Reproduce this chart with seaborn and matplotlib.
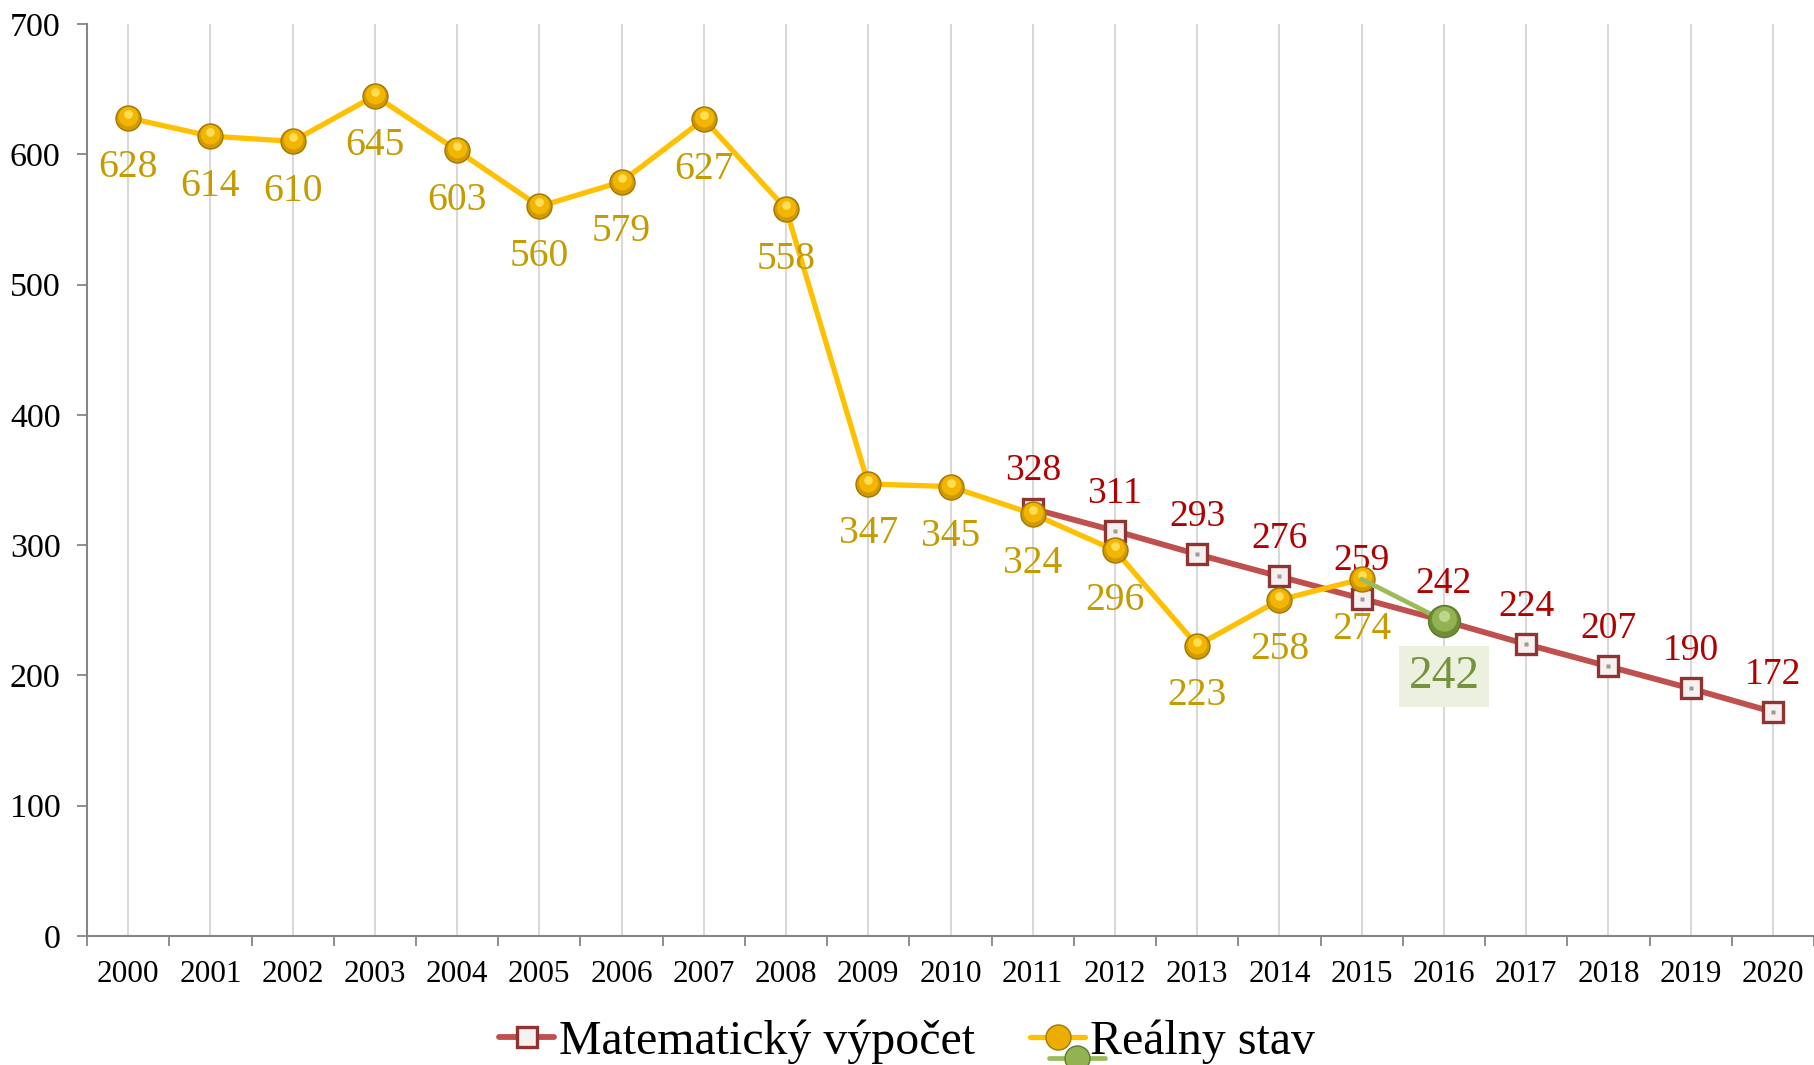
import pandas as pd
import seaborn as sns
import matplotlib.pyplot as plt
from matplotlib.lines import Line2D
from matplotlib.markers import MarkerStyle
from matplotlib.transforms import Affine2D
from matplotlib.ticker import MultipleLocator, FixedLocator

# data
years = list(range(2000, 2021))
real_years = list(range(2000, 2016))
real_values = [628, 614, 610, 645, 603, 560, 579, 627, 558, 347, 345, 324, 296, 223, 258, 274]
calc_years = list(range(2011, 2021))
calc_values = [328, 311, 293, 276, 259, 242, 224, 207, 190, 172]
forecast_years = [2015, 2016]
forecast_values = [274, 242]

real = pd.DataFrame({"rok": real_years, "hodnota": real_values})
calc = pd.DataFrame({"rok": calc_years, "hodnota": calc_values})
forecast = pd.DataFrame({"rok": forecast_years, "hodnota": forecast_values})

colors = {"calc": "#C0504D", "real": "#FFC000", "forecast": "#9BBB59"}
label_colors = {"calc": "#B00000", "real": "#C49C00", "forecast": "#76923C"}

sns.set_theme(style="white", rc={"axes.spines.top": False, "axes.spines.right": False})
plt.rcParams["font.family"] = ["Liberation Serif", "DejaVu Serif"]

fig = plt.figure(figsize=(18.14, 10.65), dpi=100)
ax = fig.add_axes([0.048, 0.1211, 0.952, 0.8563])

# Matematický výpočet
sns.lineplot(data=calc, x="rok", y="hodnota", ax=ax, color=colors["calc"], linewidth=4.2,
             marker="s", markersize=14, markerfacecolor="#F7F0F0", markeredgecolor="#8E3432",
             markeredgewidth=2.4, zorder=3)
ax.plot(calc["rok"], calc["hodnota"], linestyle="none", marker="s", markersize=3,
        markerfacecolor="#9A9A9A", markeredgecolor="none", zorder=3.1)

# Reálny stav
sphere = dict(linestyle="none", markeredgecolor="none")
sns.lineplot(data=real, x="rok", y="hodnota", ax=ax, color=colors["real"], linewidth=3.8,
             marker="o", markersize=18, markerfacecolor="#D29A00", markeredgecolor="#A27800",
             markeredgewidth=1, zorder=4)
ax.plot(real["rok"], real["hodnota"], marker=MarkerStyle("o", transform=Affine2D().scale(0.78).translate(0, 0.07)),
        markersize=18, markerfacecolor="#F2B600", zorder=4.1, **sphere)
ax.plot(real["rok"], real["hodnota"], marker=MarkerStyle("o", transform=Affine2D().scale(0.35).translate(0, 0.16)),
        markersize=18, markerfacecolor="#FFDD55", zorder=4.2, **sphere)

# odhad 2016
sns.lineplot(data=forecast, x="rok", y="hodnota", ax=ax, color=colors["forecast"], linewidth=3.4, zorder=5)
last = forecast.iloc[[-1]]
ax.plot(last["rok"], last["hodnota"], marker="o", markersize=23, markerfacecolor="#6F8C36",
        markeredgecolor="#5F7A2C", markeredgewidth=1, zorder=5.1, linestyle="none")
ax.plot(last["rok"], last["hodnota"], marker=MarkerStyle("o", transform=Affine2D().scale(0.78).translate(0, 0.07)),
        markersize=23, markerfacecolor="#93B352", zorder=5.2, **sphere)
ax.plot(last["rok"], last["hodnota"], marker=MarkerStyle("o", transform=Affine2D().scale(0.35).translate(0, 0.16)),
        markersize=23, markerfacecolor="#BDD58C", zorder=5.3, **sphere)

# popisky hodnot
for x, y in zip(calc_years, calc_values):
    ax.annotate(str(y), (x, y), xytext=(0, 27), textcoords="offset points", ha="center", va="center",
                fontsize=27, color=label_colors["calc"], zorder=3.5)
for x, y in zip(real_years, real_values):
    ax.annotate(str(y), (x, y), xytext=(0, -36), textcoords="offset points", ha="center", va="center",
                fontsize=28.5, color=label_colors["real"], zorder=6)
ax.annotate(str(forecast_values[-1]), (forecast_years[-1], forecast_values[-1]), xytext=(0, -40),
            textcoords="offset points", ha="center", va="center", fontsize=34, color=label_colors["forecast"],
            bbox=dict(boxstyle="square,pad=0.2", facecolor="#EBF1DE", edgecolor="none"), zorder=6)

# osi
ax.set_xlim(1999.5, 2020.5)
ax.set_ylim(0, 700)
ax.yaxis.set_major_locator(MultipleLocator(100))
ax.xaxis.set_major_locator(FixedLocator(years))
ax.xaxis.set_minor_locator(FixedLocator([y - 0.5 for y in years] + [2020.5]))
ax.set_xticklabels([str(y) for y in years])
ax.tick_params(axis="x", which="major", length=0, pad=17, labelsize=22.5, labelcolor="black")
ax.tick_params(axis="x", which="minor", length=7, width=1.3, color="#868686", direction="out", bottom=True)
ax.tick_params(axis="y", length=7, width=1.3, color="#868686", direction="out", left=True, pad=12,
               labelsize=24.5, labelcolor="black")
ax.grid(axis="x", which="major", color="#D9D9D9", linewidth=1.5)
ax.grid(axis="y", visible=False)
for side in ("left", "bottom"):
    ax.spines[side].set_color("#868686")
    ax.spines[side].set_linewidth(1.5)
ax.set_xlabel("")
ax.set_ylabel("")

# legenda
h_calc = Line2D([], [], color=colors["calc"], linewidth=4.2, marker="s", markersize=14,
                markerfacecolor="#F7F0F0", markeredgecolor="#8E3432", markeredgewidth=2.4)
h_real = Line2D([], [], color=colors["real"], linewidth=3.8, marker="o", markersize=18,
                markerfacecolor="#EBAE00", markeredgecolor="#A27800")
h_fore = Line2D([], [], color=colors["forecast"], linewidth=3.4, marker="o", markersize=18,
                markerfacecolor="#93B352", markeredgecolor="#5F7A2C")
fig.legend([h_calc, h_real], ["Matematický výpočet", "Reálny stav"], loc="center",
           bbox_to_anchor=(0.5, 0.022), ncol=2, frameon=False, fontsize=34.5, labelcolor="black",
           handlelength=1.15, handletextpad=0.1, columnspacing=1.15, borderpad=0)
fig.legend([h_fore], [""], loc="center", bbox_to_anchor=(1077 / 1814, 0.002), frameon=False,
           handlelength=1.15, handletextpad=0, borderpad=0, fontsize=34.5)

fig.savefig("out.png", dpi=100)
